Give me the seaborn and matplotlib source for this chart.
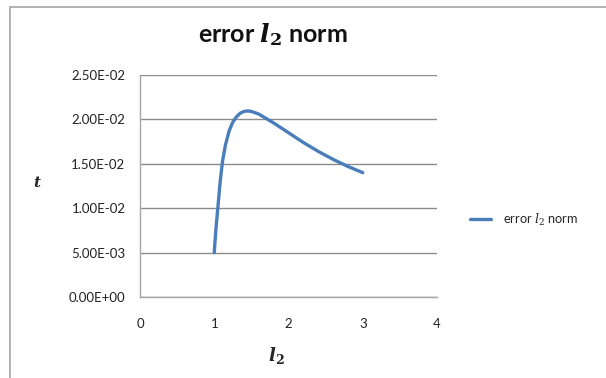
import matplotlib
matplotlib.use("Agg")
import matplotlib.pyplot as plt
import seaborn as sns
import pandas as pd
from matplotlib.lines import Line2D

# data
l2_values = [1.0, 1.02, 1.05, 1.08, 1.11, 1.15, 1.2, 1.25, 1.3, 1.35, 1.4, 1.45, 1.5, 1.6, 1.7,
             1.8, 2.0, 2.2, 2.4, 2.6, 2.8, 3.0]
error_values = [0.0050, 0.0074, 0.0102, 0.0130, 0.0152, 0.0171, 0.0187, 0.0197, 0.0203, 0.0207,
                0.0209, 0.02095, 0.0209, 0.0206, 0.0201,
                0.0196, 0.0185, 0.0174, 0.0164, 0.0155, 0.0147, 0.0140]
x_ticks = [0, 1, 2, 3, 4]
y_ticks = [0.0, 0.005, 0.010, 0.015, 0.020, 0.025]
y_tick_labels = ["0.00E+00", "5.00E-03", "1.00E-02", "1.50E-02", "2.00E-02", "2.50E-02"]
series_name = r"error $\mathit{l}_2$ norm"

df = pd.DataFrame({"l2": l2_values, "err": error_values, "series": series_name})

sns.set_style("white")
plt.rcParams["font.family"] = ["Lato", "DejaVu Sans"]
plt.rcParams["mathtext.fontset"] = "dejavuserif"

fig = plt.figure(figsize=(6.06, 3.78), dpi=100)
ax = fig.add_axes([140 / 606, 1 - 297 / 378, (437 - 140) / 606, (297 - 75) / 378])

sns.lineplot(data=df, x="l2", y="err", hue="series", palette=["#4A7EBB"],
             linewidth=2.4, ax=ax, legend=True, sort=False)

ax.set_xlim(0, 4)
ax.set_ylim(0, 0.025)
ax.set_xticks(x_ticks)
ax.set_xticklabels([str(t) for t in x_ticks])
ax.set_yticks(y_ticks)
ax.set_yticklabels(y_tick_labels)

ax.grid(axis="y", color="#8c8c8c", linewidth=1.0)
ax.grid(axis="x", visible=False)
for s in ["top", "right"]:
    ax.spines[s].set_visible(False)
for s in ["left", "bottom"]:
    ax.spines[s].set_color("#a6a6a6")
    ax.spines[s].set_linewidth(1.0)
ax.tick_params(axis="both", direction="out", length=5, width=1, color="#a6a6a6",
               labelsize=9.5, labelcolor="#222222")
ax.tick_params(axis="y", pad=5.5)
ax.tick_params(axis="x", pad=10)

ax.set_xlabel(r"$\mathbfit{l}_\mathbf{2}$", fontsize=13)
ax.set_ylabel(r"$\mathbfit{t}$", fontsize=11, rotation=0)
ax.yaxis.set_label_coords(-0.345, 0.48)
ax.xaxis.set_label_coords(0.46, -0.215)

fig.text(273 / 606, 1 - 35 / 378, r"error $\mathbfit{l}_\mathbf{2}$ norm", fontsize=18,
         fontweight="bold", ha="center", va="center", color="#111111")

leg = ax.legend(loc="center left", bbox_to_anchor=(458 / 606, 1 - 220 / 378),
                bbox_transform=fig.transFigure, frameon=False, fontsize=9.2,
                handlelength=1.7, handletextpad=0.9, title=None)
for h in leg.get_lines():
    h.set_linewidth(2.4)

# chart-area border (left and top edges)
fig.add_artist(Line2D([10 / 606, 10 / 606], [0, 1 - 7 / 378], transform=fig.transFigure,
                      color="#a6a6a6", linewidth=1.2))
fig.add_artist(Line2D([10 / 606, 1], [1 - 7 / 378, 1 - 7 / 378], transform=fig.transFigure,
                      color="#a6a6a6", linewidth=1.2))

fig.savefig("out.png", dpi=100, facecolor="white")
